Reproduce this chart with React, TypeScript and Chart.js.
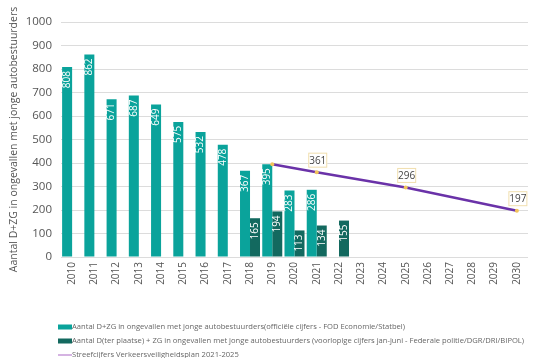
import React, { useEffect, useRef } from "react";
import { Chart, registerables } from "chart.js";

Chart.register(...registerables);

const years = ["2010","2011","2012","2013","2014","2015","2016","2017","2018","2019","2020","2021","2022","2023","2024","2025","2026","2027","2028","2029","2030"];
const officialValues = [808, 862, 671, 687, 649, 575, 532, 478, 367, 395, 283, 286, null, null, null, null, null, null, null, null, null];
const provisionalValues = [null, null, null, null, null, null, null, null, 165, 194, 113, 134, 155, null, null, null, null, null, null, null, null];
const targetValues = [null, null, null, null, null, null, null, null, null, 395, null, 361, null, null, null, 296, null, null, null, null, 197];
const targetLabelYears = ["2021", "2025", "2030"];
const yTicks = [0, 100, 200, 300, 400, 500, 600, 700, 800, 900, 1000];

const legendLabels = [
  "Aantal D+ZG in ongevallen met jonge autobestuurders(officiële cijfers - FOD Economie/Statbel)",
  "Aantal D(ter plaatse) + ZG in ongevallen met jonge autobestuurders (voorlopige cijfers jan-juni - Federale politie/DGR/DRI/BIPOL)",
  "Streefcijfers Verkeersveiligheidsplan 2021-2025",
];
const yTitle = "Aantal D+ZG in ongevallen met jonge autobestuurders";

const TEAL = "#0aa39b";
const DARK = "#13695f";
const PURPLE = "#6a32a8";
const POINT = "#f2c35a";
const TEXT = "#555555";
const FONT = "'Open Sans', 'Noto Sans', sans-serif";

const barLabelPlugin = {
  id: "barLabels",
  afterDatasetsDraw(chart: any) {
    const ctx = chart.ctx;
    ctx.save();
    ctx.font = `10px ${FONT}`;
    ctx.fillStyle = "#ffffff";
    ctx.textAlign = "right";
    ctx.textBaseline = "middle";
    [0, 1].forEach((di) => {
      const meta = chart.getDatasetMeta(di);
      const data = chart.data.datasets[di].data;
      meta.data.forEach((el: any, i: number) => {
        const v = data[i];
        if (v == null) return;
        ctx.save();
        ctx.translate(el.x, el.y + 4);
        ctx.rotate(-Math.PI / 2);
        ctx.fillText(String(v), 0, 0);
        ctx.restore();
      });
    });
    const meta = chart.getDatasetMeta(2);
    const data = chart.data.datasets[2].data;
    ctx.font = `10px ${FONT}`;
    ctx.textAlign = "center";
    ctx.textBaseline = "middle";
    meta.data.forEach((el: any, i: number) => {
      const v = data[i];
      if (v == null) return;
      if (!targetLabelYears.includes(years[i])) return;
      const cx = el.x + 1;
      const cy = el.y - 12;
      const w = 19, h = 15;
      ctx.fillStyle = "#ffffff";
      ctx.fillRect(cx - w / 2, cy - h / 2, w, h);
      ctx.strokeStyle = "#f1dfae";
      ctx.lineWidth = 1;
      ctx.strokeRect(cx - w / 2 + 0.5, cy - h / 2 + 0.5, w - 1, h - 1);
      ctx.fillStyle = "#444444";
      ctx.fillText(String(v), cx, cy + 0.5);
    });
    ctx.restore();
  },
};

const legendPlugin = {
  id: "customLegend",
  afterDraw(chart: any) {
    const ctx = chart.ctx;
    ctx.save();
    ctx.font = `7.6px ${FONT}`;
    ctx.textBaseline = "middle";
    ctx.textAlign = "left";
    const x0 = 58;
    const rows = [327, 341, 355];
    legendLabels.forEach((label, i) => {
      const y = rows[i];
      if (i < 2) {
        ctx.fillStyle = i === 0 ? TEAL : DARK;
        ctx.fillRect(x0, y - 2.5, 14, 5);
      } else {
        ctx.strokeStyle = "#c79ad9";
        ctx.lineWidth = 1.5;
        ctx.beginPath();
        ctx.moveTo(x0, y);
        ctx.lineTo(x0 + 14, y);
        ctx.stroke();
      }
      ctx.fillStyle = "#666666";
      ctx.fillText(label, x0 + 14, y);
    });
    ctx.restore();
  },
};

export default function App() {
  const ref = useRef<HTMLCanvasElement | null>(null);
  useEffect(() => {
    document.body.style.margin = "0";
    document.body.style.background = "#ffffff";
    const canvas = ref.current;
    if (!canvas) return;
    const chart = new Chart(canvas, {
      type: "bar",
      data: {
        labels: years,
        datasets: [
          {
            label: legendLabels[0],
            data: officialValues,
            backgroundColor: TEAL,
            categoryPercentage: 0.9,
            barPercentage: 1.0,
            order: 2,
          } as any,
          {
            label: legendLabels[1],
            data: provisionalValues,
            backgroundColor: DARK,
            categoryPercentage: 0.9,
            barPercentage: 1.0,
            order: 2,
          } as any,
          {
            type: "line",
            label: legendLabels[2],
            data: targetValues,
            borderColor: PURPLE,
            borderWidth: 2.5,
            pointRadius: 2,
            pointBackgroundColor: POINT,
            pointBorderWidth: 0,
            spanGaps: true,
            order: 0,
          } as any,
        ],
      },
      options: {
        animation: false,
        responsive: false,
        maintainAspectRatio: false,
        layout: { padding: { left: 0, right: 8, top: 22, bottom: 51 } },
        plugins: {
          legend: { display: false },
          tooltip: { enabled: false },
        },
        scales: {
          x: {
            grid: { display: false, drawTicks: false },
            border: { display: false },
            ticks: {
              minRotation: 90,
              maxRotation: 90,
              padding: 5,
              color: TEXT,
              font: { family: FONT, size: 10 },
              autoSkip: false,
            },
            afterFit(scale: any) {
              scale.height = 50;
            },
          },
          y: {
            min: 0,
            max: 1000,
            afterBuildTicks(scale: any) {
              scale.ticks = yTicks.map((v) => ({ value: v }));
            },
            grid: { color: "#dcdcdc", drawTicks: false, lineWidth: 1 },
            border: { display: false },
            ticks: {
              padding: 9,
              color: TEXT,
              font: { family: FONT, size: 11.5 },
              callback: (v: any) => String(v),
            },
            title: {
              display: true,
              text: yTitle,
              color: TEXT,
              font: { family: FONT, size: 10.5 },
              padding: { top: 8, bottom: 0 },
            },
            afterFit(scale: any) {
              scale.width = 61;
            },
          },
        },
      },
      plugins: [barLabelPlugin, legendPlugin],
    });
    return () => chart.destroy();
  }, []);
  return (
    <div style={{ width: 536, height: 358, background: "#fff" }}>
      <canvas ref={ref} width={536} height={358} style={{ width: 536, height: 358, display: "block" }} />
    </div>
  );
}
